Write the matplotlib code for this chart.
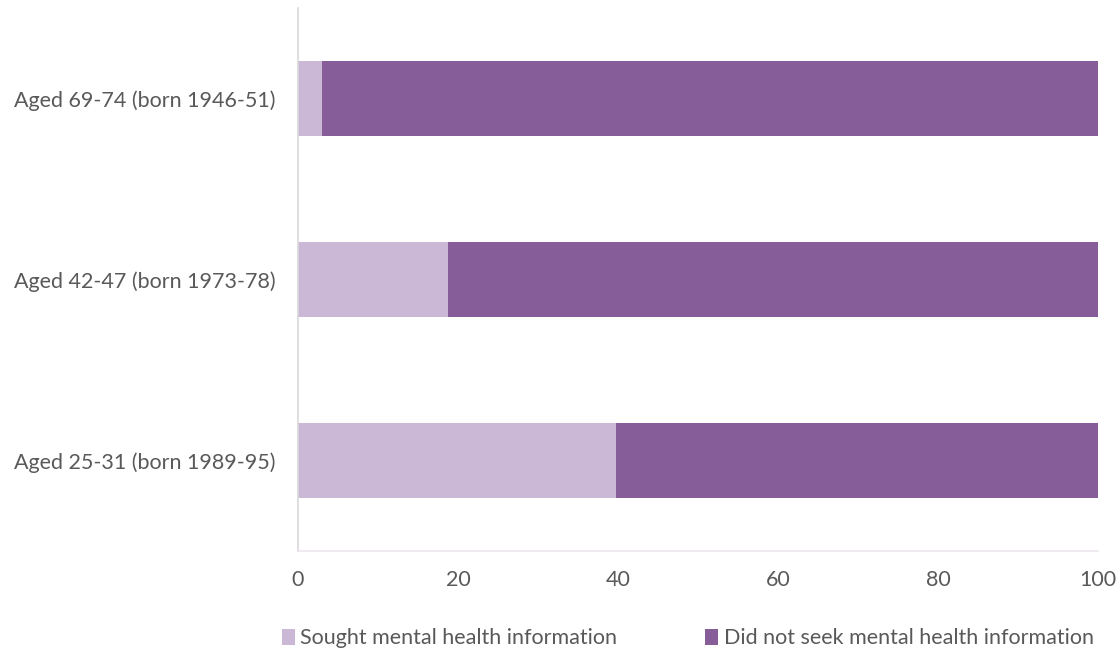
import numpy as np
import matplotlib.pyplot as plt

plt.rcParams['font.family'] = ['Lato', 'DejaVu Sans']

# survey groups, bottom to top
groups = ["Aged 25-31 (born 1989-95)",
          "Aged 42-47 (born 1973-78)",
          "Aged 69-74 (born 1946-51)"]
sought = [39.8, 18.7, 3.0]
not_sought = [100 - v for v in sought]

light = "#CBB8D6"
dark = "#865D98"

fig = plt.figure(figsize=(11.2, 6.52), dpi=100)
ax = fig.add_axes([298 / 1120, 1 - 551 / 652, 800 / 1120, 543 / 652])

y = np.arange(len(groups))
ax.barh(y, sought, height=0.41, color=light, label="Sought mental health information")
ax.barh(y, not_sought, left=sought, height=0.41, color=dark,
        label="Did not seek mental health information")

ax.set_xlim(0, 100)
ax.set_ylim(-0.5, 2.5)
ax.set_xticks([0, 20, 40, 60, 80, 100])
ax.set_yticks(y)
ax.set_yticklabels(groups)
ax.tick_params(axis="both", length=0, labelsize=15.5, colors="#595959")
ax.tick_params(axis="x", pad=14)
ax.tick_params(axis="y", pad=16)

for s in ["top", "right"]:
    ax.spines[s].set_visible(False)
ax.spines["left"].set_color("#d9d9d9")
ax.spines["bottom"].set_color("#ece6ee")
ax.spines["left"].set_linewidth(1.2)
ax.spines["bottom"].set_linewidth(1.2)

leg = fig.legend(loc="lower center", bbox_to_anchor=(0.614, -0.024), ncol=2,
                 frameon=False, fontsize=15.5, handlelength=0.6, handleheight=0.75,
                 handletextpad=0.25, columnspacing=4.1)
for t in leg.get_texts():
    t.set_color("#595959")

fig.savefig("out.png", dpi=100)
